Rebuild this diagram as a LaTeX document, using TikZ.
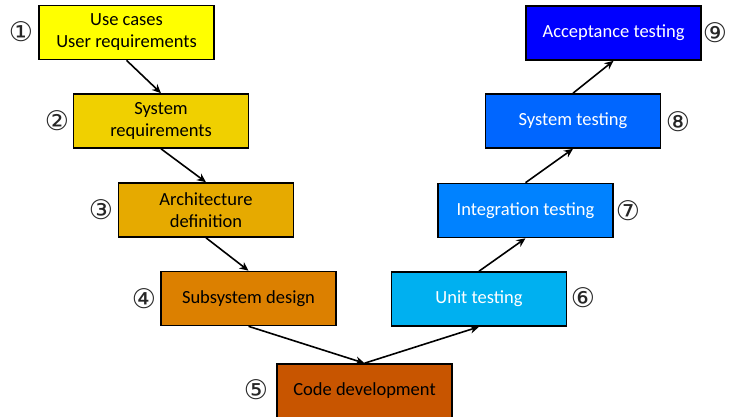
\documentclass[tikz,border=0pt]{standalone}
\usepackage{fontspec}
\setmainfont{Carlito}
\newfontfamily\circfont{DejaVu Sans}
\usetikzlibrary{arrows.meta}
\definecolor{cA}{RGB}{255,255,0}
\definecolor{cB}{RGB}{240,208,0}
\definecolor{cC}{RGB}{230,170,0}
\definecolor{cD}{RGB}{220,128,0}
\definecolor{cE}{RGB}{200,85,0}
\definecolor{cF}{RGB}{0,176,240}
\definecolor{cG}{RGB}{0,130,255}
\definecolor{cH}{RGB}{0,102,255}
\definecolor{cI}{RGB}{0,0,255}
\tikzset{
  vbox/.style={draw=black, line width=1.6pt, minimum width=175pt, minimum height=54pt,
    align=center, inner sep=2pt, font=\fontsize{18.5pt}{22pt}\selectfont},
  lbox/.style={vbox, text=black},
  dbox/.style={vbox, text=white},
  num/.style={font=\circfont\fontsize{27pt}{27pt}\selectfont, text=black!85, inner sep=0pt},
  arr/.style={line width=1.6pt, -{Stealth[length=9pt,width=8pt]}}
}
\begin{document}
\begin{tikzpicture}[x=1pt,y=-1pt]
\useasboundingbox (0,0) rectangle (729,416);
\node[lbox, fill=cA] (b1) at (126.5,32.5) {Use cases\\User requirements};
\node[lbox, fill=cB] (b2) at (161,121) {System\\requirements};
\node[lbox, fill=cC] (b3) at (206,210) {Architecture\\definition};
\node[lbox, fill=cD] (b4) at (248.5,298.5) {Subsystem design};
\node[lbox, fill=cE] (b5) at (364.5,391) {Code development};
\node[dbox, fill=cF] (b6) at (479,299) {Unit testing};
\node[dbox, fill=cG] (b7) at (525.5,210.5) {Integration testing};
\node[dbox, fill=cH] (b8) at (573,121) {System testing};
\node[dbox, fill=cI] (b9) at (613.5,33) {Acceptance testing};
\node[num] (n1) at (21,32) {①};
\node[num] (n2) at (57,121) {②};
\node[num] (n3) at (101,210) {③};
\node[num] (n4) at (144,299) {④};
\node[num] (n5) at (256,390) {⑤};
\node[num] (n6) at (583,298) {⑥};
\node[num] (n7) at (628,211) {⑦};
\node[num] (n8) at (678,122) {⑧};
\node[num] (n9) at (715,33) {⑨};
\draw[arr] (b1.south) -- (b2.north);
\draw[arr] (b2.south) -- (b3.north);
\draw[arr] (b3.south) -- (b4.north);
\draw[arr] (b4.south) -- (b5.north);
\draw[arr] (b5.north) -- (b6.south);
\draw[arr] (b6.north) -- (b7.south);
\draw[arr] (b7.north) -- (b8.south);
\draw[arr] (b8.north) -- (b9.south);
\end{tikzpicture}
\end{document}
